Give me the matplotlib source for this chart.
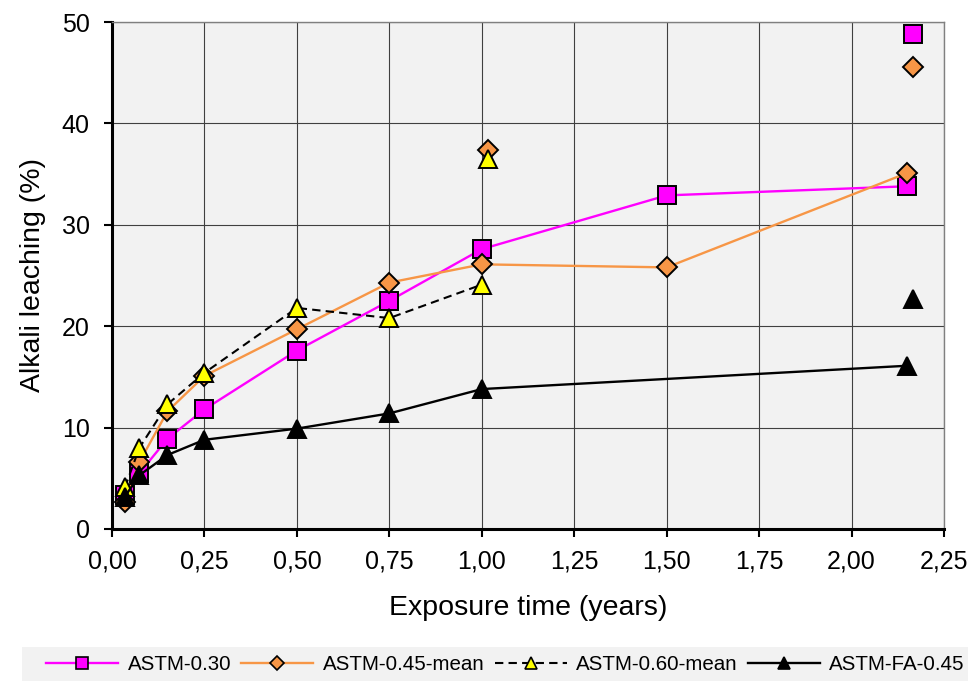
import matplotlib
matplotlib.use("Agg")
import matplotlib.pyplot as plt
from matplotlib.patches import Rectangle
from matplotlib.ticker import FuncFormatter

plt.rcParams['font.family'] = ['Liberation Sans', 'DejaVu Sans']

# Exposure times (years) and alkali leaching (%) per mix
t_030 = [0.035, 0.074, 0.15, 0.25, 0.50, 0.75, 1.00, 1.50, 2.15]
y_030 = [3.4, 5.5, 8.9, 11.8, 17.6, 22.5, 27.6, 32.9, 33.8]

t_045 = [0.035, 0.074, 0.15, 0.25, 0.50, 0.75, 1.00, 1.50, 2.15]
y_045 = [2.7, 6.6, 11.6, 15.1, 19.7, 24.3, 26.1, 25.8, 35.1]

t_060 = [0.035, 0.074, 0.15, 0.25, 0.50, 0.75, 1.00]
y_060 = [4.1, 8.0, 12.3, 15.4, 21.8, 20.8, 24.1]

t_fa = [0.035, 0.074, 0.15, 0.25, 0.50, 0.75, 1.00, 2.15]
y_fa = [3.2, 5.3, 7.3, 8.8, 9.9, 11.4, 13.8, 16.1]

# Single measurements outside the mean curves
t_030_extra = [2.167]
y_030_extra = [48.8]
t_045_extra = [1.017, 2.167]
y_045_extra = [37.4, 45.6]
t_060_extra = [1.017]
y_060_extra = [36.5]
t_fa_extra = [2.167]
y_fa_extra = [22.7]

labels = ["ASTM-0.30", "ASTM-0.45-mean", "ASTM-0.60-mean", "ASTM-FA-0.45"]
x_ticks = [0, 0.25, 0.5, 0.75, 1.0, 1.25, 1.5, 1.75, 2.0, 2.25]
y_ticks = [0, 10, 20, 30, 40, 50]

MAGENTA = "#ff00ff"
ORANGE = "#f79646"
YELLOW = "#ffff00"
BLACK = "#000000"

fig = plt.figure(figsize=(9.7, 6.81), dpi=100)
ax = fig.add_axes([112 / 970, 1 - 529 / 681, (944 - 112) / 970, (529 - 22) / 681])
ax.set_facecolor("#f2f2f2")

styles = [
    dict(color=MAGENTA, marker="s", ms=13, mfc=MAGENTA, ls="-", lw=1.7, z=4),
    dict(color=ORANGE, marker="D", ms=10.5, mfc=ORANGE, ls="-", lw=1.7, z=5),
    dict(color=BLACK, marker="^", ms=13.5, mfc=YELLOW, ls=(0, (4, 2.5)), lw=1.5, z=6),
    dict(color=BLACK, marker="^", ms=13.5, mfc=BLACK, ls="-", lw=1.7, z=7),
]
series = [(t_030, y_030, t_030_extra, y_030_extra),
          (t_045, y_045, t_045_extra, y_045_extra),
          (t_060, y_060, t_060_extra, y_060_extra),
          (t_fa, y_fa, t_fa_extra, y_fa_extra)]

for (tx, ty, ex, ey), st in zip(series, styles):
    ax.plot(tx, ty, color=st["color"], ls=st["ls"], lw=st["lw"], marker=st["marker"],
            ms=st["ms"], mfc=st["mfc"], mec="black", mew=1.4, zorder=st["z"])
    ax.plot(ex, ey, ls="none", marker=st["marker"], ms=st["ms"], mfc=st["mfc"],
            mec="black", mew=1.4, zorder=st["z"])

ax.set_xlim(0, 2.25)
ax.set_ylim(0, 50)
ax.set_xticks(x_ticks)
ax.set_yticks(y_ticks)
ax.xaxis.set_major_formatter(FuncFormatter(lambda v, p: f"{v:.2f}".replace(".", ",")))
ax.grid(True, color="#404040", lw=0.8, zorder=0)
ax.set_axisbelow(True)

for side in ("left", "bottom"):
    ax.spines[side].set_linewidth(2.2)
    ax.spines[side].set_color("black")
for side in ("top", "right"):
    ax.spines[side].set_linewidth(1.0)
    ax.spines[side].set_color("#808080")

ax.tick_params(axis="both", direction="out", length=6, width=1.5, labelsize=18)
ax.tick_params(axis="y", pad=10)
ax.tick_params(axis="x", pad=9)
ax.set_xlabel("Exposure time (years)", fontsize=20.5, labelpad=15)
ax.set_ylabel("Alkali leaching (%)", fontsize=20.5, labelpad=11)

# Legend strip along the bottom
fig.patches.append(Rectangle((22 / 970, 0), (968 - 22) / 970, 34 / 681,
                             transform=fig.transFigure, facecolor="#f2f2f2",
                             edgecolor="none", zorder=0))
handles = []
for st, lab in zip(styles, labels):
    h, = ax.plot([], [], color=st["color"], ls=st["ls"], lw=st["lw"], marker=st["marker"],
                 ms=8 if st["marker"] != "D" else 7, mfc=st["mfc"], mec="black", mew=1.2,
                 label=lab)
    handles.append(h)
fig.legend(handles=handles, loc="center", bbox_to_anchor=(0.521, 16 / 681), ncol=4,
           frameon=False, fontsize=14.8, handlelength=3.5, columnspacing=0.5,
           handletextpad=0.45, borderaxespad=0)

fig.savefig("out.png", dpi=100)
